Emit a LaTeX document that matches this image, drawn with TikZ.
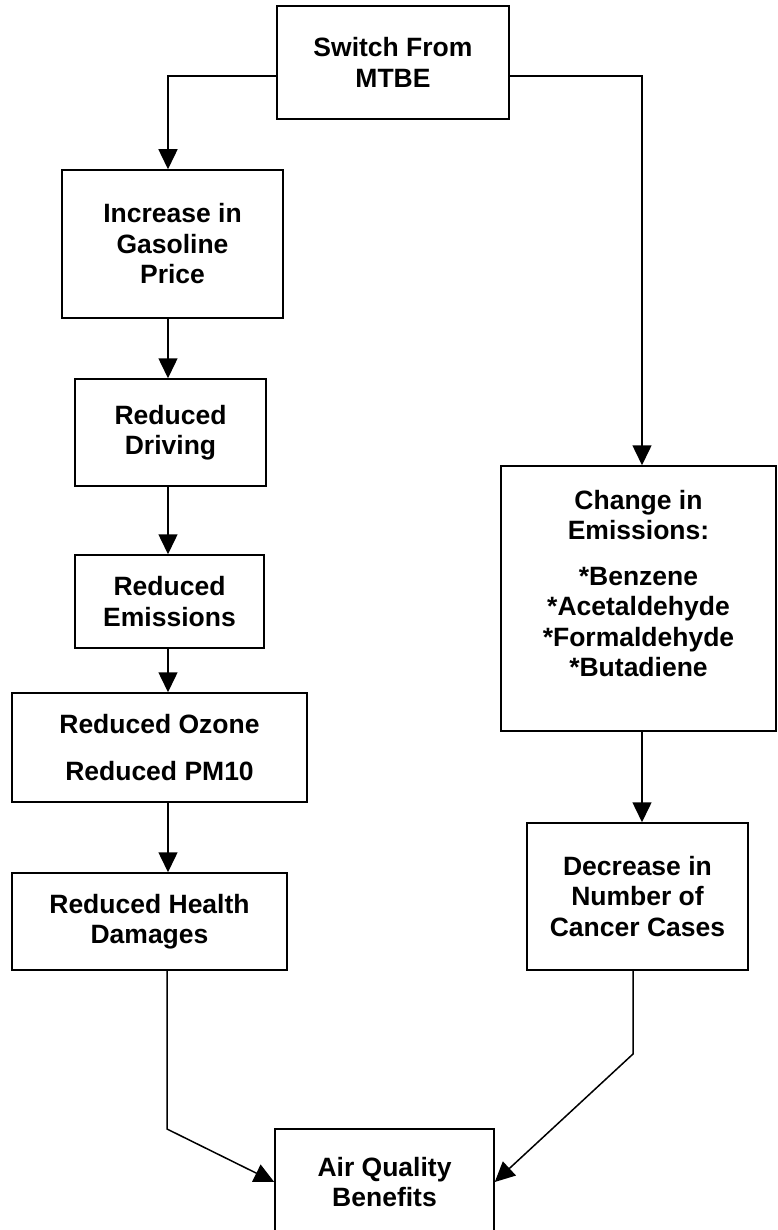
\documentclass[tikz,border=0pt]{standalone}
\usepackage{fontspec}
\setmainfont{Liberation Sans}
\usetikzlibrary{arrows.meta}

\begin{document}
\begin{tikzpicture}[x=1pt,y=-1pt,
    box/.style={rectangle,draw,line width=1.5pt,align=center,inner sep=0pt,
      font=\fontsize{26.5}{30.5}\selectfont\bfseries},
    arr/.style={-{Triangle[length=20pt,width=19pt]},line width=1.5pt}]
    \useasboundingbox (0,0) rectangle (777,1230);
    % Top
    \node[box,minimum width=232pt,minimum height=113pt] (switch) at (393,62.5) {Switch From\\MTBE};
    % Left chain
    \node[box,minimum width=221pt,minimum height=148pt] (increase) at (172.5,244) {Increase in\\Gasoline\\Price};
    \node[box,minimum width=191pt,minimum height=107pt] (driving) at (170.5,432.5) {Reduced\\Driving};
    \node[box,minimum width=189pt,minimum height=93pt] (emis) at (169.5,601.5) {Reduced\\Emissions};
    \node[box,minimum width=295pt,minimum height=109pt] (ozone) at (159.5,747.5) {Reduced Ozone\\[16pt]Reduced PM10};
    \node[box,minimum width=275pt,minimum height=97pt] (health) at (149.5,921.5) {Reduced Health\\Damages};
    % Right chain
    \node[box,minimum width=275pt,minimum height=265pt] (change) at (638.5,598.5) {Change in\\Emissions:\\[15pt]*Benzene\\*Acetaldehyde\\*Formaldehyde\\*Butadiene\\\mbox{}};
    \node[box,minimum width=221pt,minimum height=147pt] (cancer) at (637.5,896.5) {Decrease in\\Number of\\Cancer Cases};
    % Result
    \node[box,minimum width=219pt,minimum height=106pt] (air) at (384.5,1182) {Air Quality\\Benefits};
    % Columns and bends
    \coordinate (leftcol) at (168,0);
    \coordinate (rightcol) at (642,0);
    \coordinate (hbend) at (167,1129);
    \coordinate (cbend) at (633,1054);
    % Connections
    \draw[arr] ([yshift=-13.5pt]switch.west) -| (increase.north -| leftcol);
    \draw[arr] ([yshift=-13.5pt]switch.east) -| (change.north -| rightcol);
    \foreach \a/\b in {increase/driving,driving/emis,emis/ozone,ozone/health}
      \draw[arr] (\a.south -| leftcol) -- (\b.north -| leftcol);
    \draw[arr] (change.south -| rightcol) -- (cancer.north -| rightcol);
    \draw[arr] (health.south -| hbend) -- (hbend) -- (air.west);
    \draw[arr] (cancer.south -| cbend) -- (cbend) -- (air.east);
\end{tikzpicture}
\end{document}
